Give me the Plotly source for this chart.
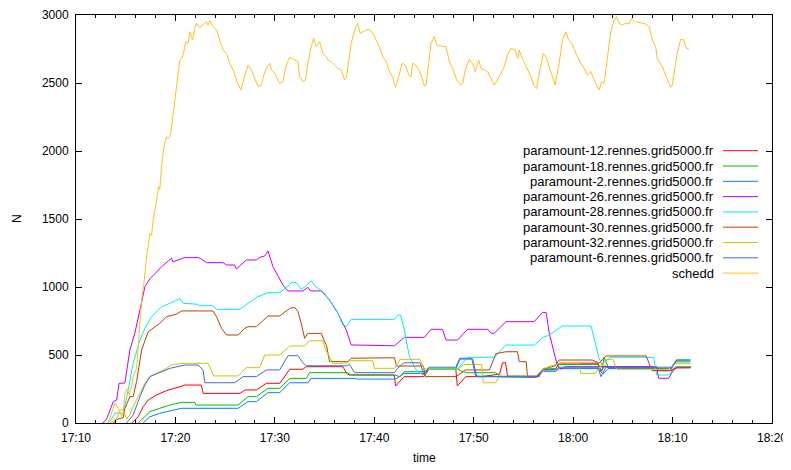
import pandas as pd
import plotly.graph_objects as go

# ---- data: time in minutes after 17:00, value N ----
series_names = [
    "paramount-12.rennes.grid5000.fr",
    "paramount-18.rennes.grid5000.fr",
    "paramount-2.rennes.grid5000.fr",
    "paramount-26.rennes.grid5000.fr",
    "paramount-28.rennes.grid5000.fr",
    "paramount-30.rennes.grid5000.fr",
    "paramount-32.rennes.grid5000.fr",
    "paramount-6.rennes.grid5000.fr",
    "schedd",
]
series_colors = ["#ff0000", "#00c000", "#0080ff", "#c000ff", "#00eeee",
                 "#c04000", "#c8c800", "#4169e1", "#ffc020"]

p12_t = [15.6, 16.26, 16.76, 17.26, 18.1, 19.1, 20.45, 20.95, 22.6, 22.8, 26.5, 27.0, 28.15, 29.15, 30.5, 31.5,
         32.8, 33.15, 36.85, 37.2, 37.5, 42.0, 42.15, 43.0, 45.0, 45.5, 48.2, 48.35, 49.2, 50.8, 52.6, 52.9,
         53.2, 53.4, 56.3, 57.0, 58.2, 58.6, 62.5, 62.8, 63.2, 63.6, 68.3, 68.6, 70.0, 70.4, 71.8]
p12_v = [0, 46, 120, 169, 206, 238, 267, 279, 279, 218, 218, 243, 243, 292, 292, 395,
         395, 414, 414, 365, 353, 353, 272, 341, 341, 395, 395, 272, 341, 341, 360, 443,
         443, 345, 345, 395, 395, 440, 440, 380, 420, 405, 405, 385, 385, 405, 405]

p18_t = [16.26, 16.93, 17.43, 18.43, 19.44, 20.61, 21.95, 22.05, 26.3, 27.3, 28.14, 29.31, 30.48, 31.49,
         33.15, 33.49, 37.31, 37.68, 42.03, 42.6, 43.0, 45.0, 45.5, 48.3, 48.8, 49.3, 52.2, 52.7, 56.3,
         57.0, 58.2, 58.6, 62.5, 62.9, 63.1, 63.5, 68.0, 68.4, 69.8, 70.3, 71.8]
p18_v = [0, 46, 83, 108, 132, 152, 152, 132, 132, 194, 194, 255, 255, 328,
         328, 370, 370, 353, 353, 340, 377, 377, 400, 400, 380, 370, 370, 340, 340,
         395, 400, 430, 430, 380, 485, 415, 415, 400, 400, 450, 450]

p2_t = [16.76, 17.43, 18.43, 19.44, 20.61, 26.3, 27.3, 28.14, 29.31, 30.48, 31.49, 33.32, 33.66, 38.01,
        38.31, 42.03, 42.3, 43.0, 45.0, 45.5, 48.2, 48.6, 49.9, 50.3, 56.3, 57.0, 58.2, 58.6, 62.5, 63.0,
        63.5, 69.9, 70.4, 71.8]
p2_v = [0, 46, 71, 90, 108, 108, 157, 157, 223, 223, 296, 296, 328, 328,
        323, 323, 330, 365, 365, 395, 395, 470, 470, 345, 335, 380, 380, 400, 400, 360,
        400, 400, 463, 463]

p26_t = [12.71, 13.08, 13.75, 14.08, 14.33, 14.59, 14.92, 15.42, 15.92, 16.43, 16.93, 17.43, 18.1, 18.63,
         19.27, 19.61, 19.74, 20.11, 20.94, 22.28, 22.55, 23.12, 24.79, 25.13, 25.96, 26.13, 26.64, 27.14,
         28.14, 28.47, 28.98, 29.31, 29.81, 30.31, 30.81, 31.32, 32.82, 33.32, 33.59, 34.67, 35.5, 36.34,
         37.18, 37.68, 42.03, 43.03, 45.04, 45.71, 46.86, 47.22, 48.38, 49.39, 51.41, 51.75, 52.07, 53.24,
         56.08, 56.92, 57.29, 57.59, 58.09, 58.42, 58.8, 59.2, 68.4, 68.6, 69.6, 70.3, 71.8]
p26_v = [0, 30, 157, 169, 292, 294, 294, 537, 662, 831, 1002, 1060, 1113, 1150,
         1191, 1211, 1185, 1195, 1216, 1216, 1208, 1179, 1179, 1162, 1162, 1132, 1167, 1199,
         1199, 1218, 1228, 1265, 1149, 1076, 1015, 971, 971, 998, 971, 971, 904, 806,
         684, 574, 568, 630, 630, 689, 689, 610, 610, 689, 689, 660, 660, 745,
         745, 814, 811, 662, 514, 420, 395, 414, 414, 329, 329, 414, 414]

p28_t = [13.21, 13.58, 13.92, 14.75, 15.25, 15.75, 16.43, 16.93, 17.6, 18.61, 19.44, 20.11, 20.44, 20.77,
         22.28, 22.45, 23.78, 24.13, 26.47, 27.3, 28.3, 29.31, 30.48, 31.32, 31.66, 32.16, 32.65, 32.99,
         33.66, 34.16, 34.83, 35.5, 36.18, 36.84, 37.18, 37.68, 42.03, 42.36, 42.63, 43.03, 43.53, 44.21,
         44.85, 45.5, 48.4, 49.4, 52.1, 53.2, 56.1, 57.0, 57.6, 58.9, 61.8, 62.6, 62.9, 63.7, 68.1, 68.4,
         69.6, 70.3, 71.8]
p28_v = [0, 30, 73, 73, 243, 439, 610, 696, 782, 855, 880, 900, 914, 880,
         873, 862, 862, 836, 836, 880, 929, 958, 958, 1007, 1032, 1032, 983, 1000,
         1044, 998, 966, 904, 831, 721, 710, 762, 762, 794, 794, 684, 488, 390,
         353, 400, 400, 483, 483, 573, 573, 630, 647, 713, 713, 476, 430, 483, 483, 353,
         353, 414, 414]

p30_t = [13.75, 14.08, 14.75, 14.92, 15.42, 15.75, 16.09, 16.6, 17.26, 17.76, 18.43, 19.11, 19.77, 20.11,
         20.61, 23.78, 24.13, 24.63, 25.13, 26.3, 26.97, 27.3, 28.14, 29.31, 30.48, 31.49, 31.99, 32.32,
         32.65, 32.99, 33.32, 34.67, 35.0, 35.2, 35.5, 37.34, 37.68, 42.03, 42.23, 44.94, 45.14, 48.22,
         49.16, 51.57, 52.24, 53.24, 54.41, 54.58, 55.28, 55.41, 56.59, 56.89, 58.19, 58.59, 61.91, 62.61,
         63.31, 67.35, 67.93, 69.64, 70.56, 71.85]
p30_v = [0, 25, 40, 108, 194, 194, 304, 537, 671, 696, 733, 782, 794, 800,
         824, 824, 782, 696, 647, 647, 696, 708, 708, 787, 787, 843, 850, 820,
         733, 623, 659, 659, 598, 570, 451, 451, 476, 480, 419, 419, 341, 341,
         390, 390, 510, 524, 524, 451, 451, 341, 341, 395, 420, 463, 463, 440,
         493, 493, 385, 385, 409, 409]

p32_t = [13.41, 14.08, 14.42, 14.75, 15.09, 15.42, 15.75, 16.43, 16.93, 17.43, 18.1, 19.11, 19.61, 20.77,
         23.29, 23.86, 26.3, 27.14, 28.47, 28.98, 30.48, 31.49, 32.99, 33.49, 34.83, 35.1, 35.84, 37.18,
         37.51, 39.85, 40.0, 42.03, 42.6, 44.6, 45.0, 45.5, 48.4, 49.0, 50.8, 50.95, 52.2, 52.6, 56.3,
         57.0, 58.6, 60.6, 60.75, 62.2, 63.3, 64.0, 64.4, 69.6, 70.3, 71.8]
p32_v = [0, 30, 95, 95, 30, 60, 120, 218, 292, 341, 365, 402, 426, 439,
         439, 346, 346, 407, 407, 500, 500, 566, 566, 605, 605, 540, 439, 439,
         458, 458, 402, 402, 468, 468, 400, 395, 395, 430, 430, 296, 296, 345, 345,
         400, 439, 439, 365, 365, 468, 468, 395, 395, 436, 436]

p6_t = [15.09, 15.75, 16.43, 16.93, 17.43, 18.1, 19.44, 20.94, 22.28, 22.78, 22.95, 25.96, 26.8, 28.14,
        29.15, 30.48, 31.32, 32.32, 32.82, 33.15, 37.18, 37.51, 38.01, 42.03, 42.3, 43.0, 44.6, 45.0,
        45.5, 48.2, 48.6, 49.8, 50.2, 56.3, 57.0, 58.2, 58.6, 62.5, 62.8, 63.3, 69.9, 70.4, 71.8]
p6_v = [0, 59, 194, 279, 341, 360, 402, 426, 426, 390, 296, 296, 341, 341,
        390, 390, 495, 495, 443, 421, 421, 430, 370, 370, 400, 443, 443, 353,
        410, 410, 476, 476, 340, 340, 390, 390, 410, 410, 340, 410, 410, 463, 463]

schedd_t = [13.24, 13.92, 14.25, 14.59, 14.75, 14.92, 15.09, 15.35, 15.59, 15.75, 16.09, 16.25, 16.43, 16.6,
            16.83, 17.1, 17.43, 17.6, 17.76, 18.1, 18.33, 18.43, 18.6, 18.84, 19.11, 19.27, 19.44, 19.61,
            19.94, 20.17, 20.44, 20.61, 20.77, 21.04, 21.28, 21.45, 21.72, 21.95, 22.12, 22.45, 22.78, 23.12,
            23.28, 23.45, 23.79, 24.13, 24.46, 24.79, 25.13, 25.46, 25.79, 26.13, 26.57, 26.8, 27.3, 27.64,
            27.97, 28.3, 28.64, 28.98, 29.25, 29.48, 29.65, 29.88, 30.15, 30.48, 30.81, 31.15, 31.49, 31.99,
            32.32, 32.49, 32.82, 33.09, 33.32, 33.66, 33.9, 34.17, 34.5, 34.83, 35.17, 35.33, 35.67, 36.0,
            36.34, 36.68, 37.01, 37.18, 37.34, 37.68, 38.01, 38.34, 38.58, 38.85, 39.19, 39.52, 39.85, 40.19,
            40.52, 40.85, 41.19, 41.46, 41.86, 42.13, 42.46, 42.8, 43.13, 43.47, 43.7, 43.87, 44.14, 44.37,
            44.71, 45.04, 45.21, 45.47, 45.71, 46.04, 46.28, 46.72, 47.22, 47.55, 47.88, 48.28, 48.72, 48.89,
            49.16, 49.56, 49.89, 50.16, 50.49, 50.73, 51.06, 51.4, 52.07, 52.57, 53.07, 53.4, 53.75, 54.18,
            54.41, 54.58, 54.75, 55.25, 55.75, 56.08, 56.32, 56.59, 56.99, 57.26, 57.59, 57.92, 58.19, 58.59,
            58.93, 59.27, 59.53, 59.87, 60.27, 60.77, 61.1, 61.44, 61.78, 62.11, 62.61, 62.88, 63.11, 63.44,
            63.78, 64.12, 64.35, 64.62, 64.95, 65.29, 65.62, 65.89, 66.29, 66.8, 67.3, 67.63, 67.96, 68.3,
            68.46, 68.96, 69.31, 69.81, 69.97, 70.24, 70.47, 70.81, 71.14, 71.38, 71.65]
schedd_v = [0, 145, 108, 46, 75, 218, 255, 206, 267, 341, 402, 586, 757, 904,
            1027, 1223, 1395, 1380, 1493, 1645, 1738, 1720, 1885, 2032, 2105, 2090, 2105, 2179,
            2375, 2498, 2669, 2680, 2706, 2804, 2790, 2877, 2816, 2902, 2939, 2910, 2934, 2951,
            2925, 2958, 2914, 2890, 2816, 2743, 2718, 2645, 2600, 2522, 2449, 2510, 2632, 2596,
            2534, 2473, 2485, 2583, 2620, 2645, 2596, 2583, 2546, 2498, 2510, 2632, 2689, 2669,
            2657, 2546, 2510, 2522, 2645, 2767, 2829, 2767, 2804, 2718, 2694, 2669, 2657, 2632,
            2608, 2596, 2522, 2534, 2608, 2792, 2890, 2939, 2865, 2877, 2890, 2895, 2865, 2816,
            2767, 2693, 2660, 2596, 2540, 2468, 2546, 2645, 2632, 2559, 2546, 2645, 2632, 2608,
            2559, 2478, 2485, 2645, 2792, 2841, 2779, 2772, 2767, 2657, 2608, 2522, 2485, 2498,
            2596, 2674, 2645, 2583, 2669, 2608, 2596, 2583, 2485, 2546, 2620, 2706, 2755, 2743,
            2681, 2743, 2706, 2632, 2546, 2473, 2460, 2571, 2718, 2694, 2620, 2546, 2485, 2645,
            2816, 2877, 2816, 2792, 2718, 2645, 2608, 2559, 2583, 2522, 2449, 2510, 2498, 2681,
            2877, 2963, 2988, 2939, 2926, 2939, 2934, 2975, 2951, 2943, 2934, 2914, 2816, 2767,
            2681, 2620, 2559, 2468, 2485, 2620, 2718, 2821, 2816, 2755, 2750]

x_ticks = ["17:10", "17:20", "17:30", "17:40", "17:50", "18:00", "18:10", "18:20"]
y_ticks = [0, 500, 1000, 1500, 2000, 2500, 3000]

series_t = [p12_t, p18_t, p2_t, p26_t, p28_t, p30_t, p32_t, p6_t, schedd_t]
series_v = [p12_v, p18_v, p2_v, p26_v, p28_v, p30_v, p32_v, p6_v, schedd_v]

base = pd.Timestamp("2012-06-01 17:00:00")


def to_time(mins):
    return [base + pd.Timedelta(minutes=m) for m in mins]


# page body adds an 8px offset; compensate so the plot frame sits at x 76..772, y 15..423
OFF = 8
W, H = 791, 470
L, T, PW, PH = 76 - OFF, 15 - OFF, 696, 408

FONT = "Liberation Sans, Arial, Helvetica, sans-serif"
fig = go.Figure()
for name, col, t, v in zip(series_names, series_colors, series_t, series_v):
    fig.add_trace(go.Scatter(x=to_time(t), y=v, mode="lines", name=name,
                             line=dict(color=col, width=1), showlegend=False))

tick_vals = [pd.Timestamp("2012-06-01 " + s + ":00") for s in x_ticks]

fig.update_layout(
    width=W, height=H,
    margin=dict(l=L, r=W - L - PW, t=T, b=H - T - PH, autoexpand=False),
    paper_bgcolor="white", plot_bgcolor="white",
    font=dict(family=FONT, size=12, color="black"),
    xaxis=dict(range=[tick_vals[0], tick_vals[-1]], tickvals=tick_vals, ticktext=x_ticks,
               ticks="inside", ticklen=6, tickcolor="black", showline=True, linecolor="black",
               linewidth=1, mirror="ticks", showgrid=False, zeroline=False, automargin=False,
               ticklabelstandoff=4,
               minor=dict(ticks="inside", ticklen=3, dtick=120000, tickcolor="black", showgrid=False),
               tickfont=dict(size=12)),
    yaxis=dict(range=[0, 3000], tickvals=y_ticks, ticks="inside", ticklen=6, tickcolor="black",
               showline=True, linecolor="black", linewidth=1, mirror="ticks", showgrid=False,
               zeroline=False, automargin=False, ticklabelstandoff=4, tickfont=dict(size=12)),
)

# axis titles
fig.add_annotation(text="N", xref="paper", yref="paper", x=(17 - 76) / PW, y=(423 - 219) / PH,
                   showarrow=False, textangle=-90, font=dict(size=12), xanchor="center", yanchor="middle")
fig.add_annotation(text="time", xref="paper", yref="paper", x=0.5, y=(423 - 458) / PH,
                   showarrow=False, font=dict(size=12), xanchor="center", yanchor="middle")

# key (text right-aligned, sample line on the right, gnuplot style)
for i, (name, col) in enumerate(zip(series_names, series_colors)):
    ypix = 150.7 + i * 15.3
    yp = (423 - ypix) / PH
    fig.add_annotation(text=name, xref="paper", yref="paper", x=(716 - 76) / PW, y=yp,
                       showarrow=False, xanchor="right", yanchor="middle", font=dict(size=13))
    fig.add_shape(type="line", xref="paper", yref="paper", x0=(723 - 76) / PW, x1=(758 - 76) / PW,
                  y0=yp, y1=yp, line=dict(color=col, width=1))

fig.write_html("out.html")
